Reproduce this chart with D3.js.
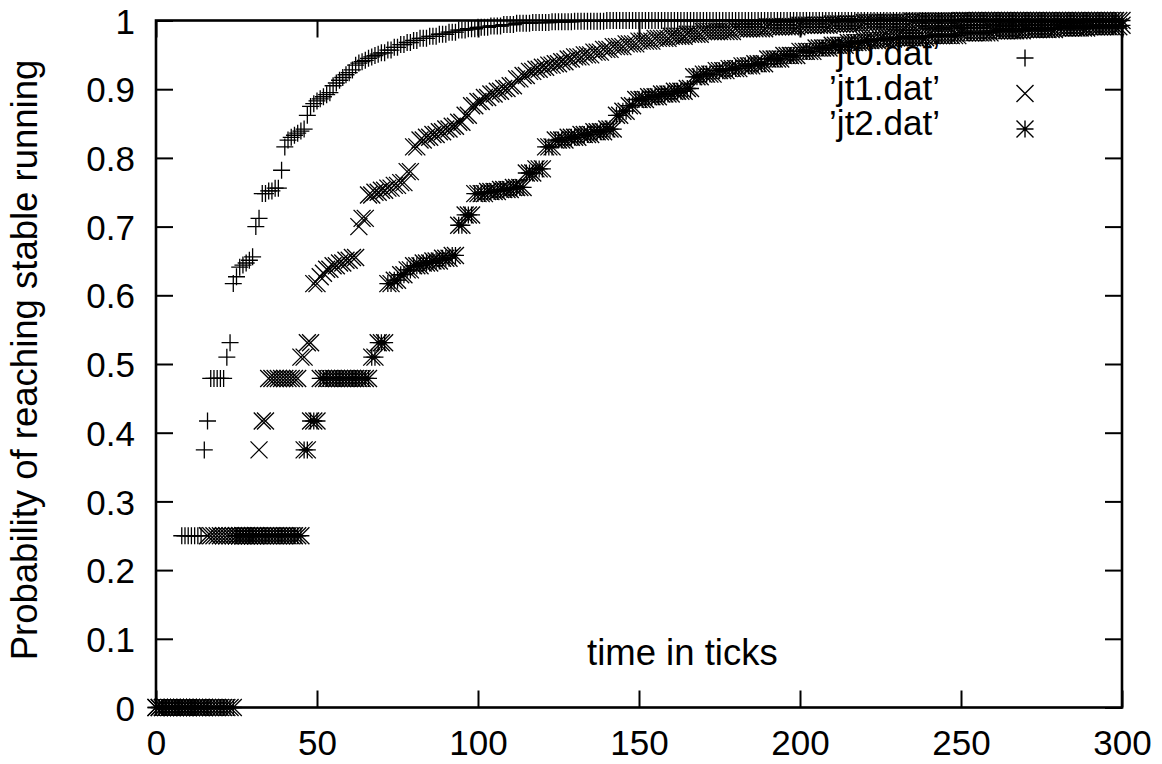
<!DOCTYPE html>
<html>
<head>
<meta charset="utf-8">
<script src="https://cdn.jsdelivr.net/npm/d3@7"></script>
<style>
  body { margin: 0; background: #fff; }
  text { font-family: "Liberation Sans", Arial, Helvetica, sans-serif; fill: #000; }
</style>
</head>
<body>
<div id="chartContainer"></div>
<script>
// sample times (one record per tick)
const ticks = d3.range(0, 301);

// [tick, probability] : value read at the tick where it changes, held until the next change
const jt0Steps = [
  [0, 0], [8, 0.25], [15, 0.375], [16, 0.417], [17, 0.479], [22, 0.51], [23, 0.531], [24, 0.617],
  [25, 0.627], [26, 0.641], [27, 0.644], [28, 0.647], [29, 0.651], [30, 0.656], [31, 0.7], [32, 0.712],
  [33, 0.748], [35, 0.752], [37, 0.756], [39, 0.782], [40, 0.816], [41, 0.826], [42, 0.83], [43, 0.833],
  [44, 0.836], [45, 0.839], [46, 0.842], [47, 0.862], [48, 0.875], [49, 0.879], [50, 0.883], [51, 0.886],
  [52, 0.889], [53, 0.892], [54, 0.895], [55, 0.905], [56, 0.909], [57, 0.913], [58, 0.917], [59, 0.921],
  [60, 0.924], [61, 0.928], [62, 0.935], [63, 0.938], [64, 0.94], [65, 0.942], [66, 0.945], [67, 0.947],
  [68, 0.949], [69, 0.951], [70, 0.953], [72, 0.957], [74, 0.961], [76, 0.965], [78, 0.968], [80, 0.971],
  [82, 0.974], [85, 0.977], [88, 0.98], [91, 0.983], [94, 0.986], [97, 0.988], [100, 0.99], [104, 0.992],
  [108, 0.994], [112, 0.996], [117, 0.997], [123, 0.998], [130, 0.999], [140, 1]
];
const jt1Steps = [
  [0, 0], [16, 0.25], [32, 0.375], [33, 0.417], [35, 0.479], [45, 0.51], [47, 0.531], [49, 0.617],
  [51, 0.627], [52, 0.632], [53, 0.638], [55, 0.643], [57, 0.647], [59, 0.651], [61, 0.655], [63, 0.7],
  [64, 0.712], [66, 0.746], [68, 0.75], [70, 0.753], [72, 0.756], [74, 0.76], [76, 0.764], [78, 0.78],
  [80, 0.816], [82, 0.826], [84, 0.83], [86, 0.834], [88, 0.838], [90, 0.842], [92, 0.846], [94, 0.852],
  [96, 0.862], [98, 0.876], [100, 0.882], [102, 0.888], [104, 0.893], [106, 0.897], [108, 0.901], [110, 0.905],
  [112, 0.915], [114, 0.92], [116, 0.926], [118, 0.929], [120, 0.932], [122, 0.935], [124, 0.937], [126, 0.94],
  [128, 0.944], [130, 0.947], [133, 0.95], [136, 0.954], [139, 0.958], [142, 0.962], [146, 0.966], [150, 0.97],
  [155, 0.974], [160, 0.977], [165, 0.98], [170, 0.984], [180, 0.988], [190, 0.991], [200, 0.993], [210, 0.995],
  [220, 0.997], [235, 0.999], [250, 1]
];
const jt2Steps = [
  [0, 0], [25, 0.25], [46, 0.375], [48, 0.417], [51, 0.479], [67, 0.51], [69, 0.531], [72, 0.617],
  [74, 0.622], [76, 0.63], [78, 0.637], [80, 0.643], [83, 0.647], [86, 0.65], [89, 0.654], [92, 0.658],
  [94, 0.702], [96, 0.717], [99, 0.748], [103, 0.751], [107, 0.754], [111, 0.757], [115, 0.778], [118, 0.784],
  [121, 0.816], [124, 0.826], [128, 0.83], [132, 0.834], [136, 0.838], [140, 0.842], [143, 0.862], [145, 0.868],
  [147, 0.876], [149, 0.885], [153, 0.889], [157, 0.893], [161, 0.897], [165, 0.901], [167, 0.918], [170, 0.922],
  [174, 0.927], [178, 0.93], [182, 0.934], [186, 0.937], [190, 0.944], [195, 0.949], [200, 0.955], [205, 0.96],
  [210, 0.964], [215, 0.968], [220, 0.971], [225, 0.973], [230, 0.975], [240, 0.978], [250, 0.982], [260, 0.985],
  [270, 0.987], [280, 0.989], [290, 0.991], [300, 0.993]
];

const seriesNames = ["\u2019jt0.dat\u2019", "\u2019jt1.dat\u2019", "\u2019jt2.dat\u2019"];
const xTicks = [0, 50, 100, 150, 200, 250, 300];
const yTicks = [0, 0.1, 0.2, 0.3, 0.4, 0.5, 0.6, 0.7, 0.8, 0.9, 1];
const yTickLabels = ["0", "0.1", "0.2", "0.3", "0.4", "0.5", "0.6", "0.7", "0.8", "0.9", "1"];

// gnuplot style point types
const plus = { draw(c, r) { c.moveTo(-r, 0); c.lineTo(r, 0); c.moveTo(0, -r); c.lineTo(0, r); } };
const cross = { draw(c, r) { c.moveTo(-r, -r); c.lineTo(r, r); c.moveTo(-r, r); c.lineTo(r, -r); } };
const star = { draw(c, r) { plus.draw(c, r); cross.draw(c, r); } };
const symbolTypes = [plus, cross, star];

function createChart() {
  const svg = d3.select("#chartContainer").append("svg").attr("width", 1162).attr("height", 764);

  const margin = { top: 20.5, right: 40, bottom: 56.5, left: 156 };
  const width = +svg.attr("width") - margin.left - margin.right;
  const height = +svg.attr("height") - margin.top - margin.bottom;

  const x = d3.scaleLinear().domain([0, 300]).range([0, width]);
  const y = d3.scaleLinear().domain([0, 1]).range([height, 0]);

  const g = svg.append("g").attr("transform", `translate(${margin.left},${margin.top})`);

  const font = '"Liberation Sans", Arial, Helvetica, sans-serif';
  const styleAxis = (sel) => {
    sel.attr("font-size", 35).attr("font-family", font);
    sel.select(".domain").remove();
    sel.selectAll(".tick line").attr("stroke", "#000").attr("stroke-width", 2);
    sel.selectAll(".tick text").attr("fill", "#000");
  };

  // ticks point inward on all four sides
  g.append("g")
    .attr("transform", `translate(0,${height})`)
    .call(d3.axisBottom(x).tickValues(xTicks).tickSize(-17).tickSizeOuter(0).tickPadding(23))
    .call(styleAxis);

  g.append("g")
    .call(d3.axisTop(x).tickValues(xTicks).tickSize(-17).tickSizeOuter(0).tickFormat(""))
    .call(styleAxis);

  g.append("g")
    .call(d3.axisLeft(y).tickValues(yTicks).tickSize(-17).tickSizeOuter(0).tickPadding(21)
      .tickFormat((d, i) => yTickLabels[i]))
    .call(styleAxis)
    .selectAll(".tick text").attr("dy", "0.36em");

  g.append("g")
    .attr("transform", `translate(${width},0)`)
    .call(d3.axisRight(y).tickValues(yTicks).tickSize(-17).tickSizeOuter(0).tickFormat(""))
    .call(styleAxis);

  g.append("rect")
    .attr("width", width)
    .attr("height", height)
    .attr("fill", "none")
    .attr("stroke", "#000")
    .attr("stroke-width", 2.6);

  // axis titles
  svg.append("text")
    .attr("transform", "translate(37,360) rotate(-90)")
    .attr("text-anchor", "middle")
    .attr("font-size", 36.5)
    .text("Probability of reaching stable running");

  svg.append("text")
    .attr("x", 587)
    .attr("y", 665)
    .attr("font-size", 36.5)
    .text("time in ticks");

  // key
  const key = svg.append("g");
  seriesNames.forEach((name, i) => {
    key.append("text")
      .attr("x", 940)
      .attr("y", 65 + i * 35)
      .attr("text-anchor", "end")
      .attr("font-size", 35)
      .text(name);
    key.append("path")
      .attr("transform", `translate(1025,${58 + i * 35.5})`)
      .attr("d", d3.symbol().type(symbolTypes[i]).size(8.5)())
      .attr("fill", "none")
      .attr("stroke", "#000")
      .attr("stroke-width", 1.4);
  });

  // expand each step list to one record per tick
  const bisect = d3.bisector((s) => s[0]).right;
  const valueAt = (steps, t) => steps[bisect(steps, t) - 1][1];
  const allSeries = [jt0Steps, jt1Steps, jt2Steps].map((steps) => ticks.map((t) => ({ t, p: valueAt(steps, t) })));

  allSeries.forEach((data, i) => {
    const sym = d3.symbol().type(symbolTypes[i]).size(8.5)();
    g.append("g")
      .attr("class", `series-${i}`)
      .selectAll("path")
      .data(data)
      .enter()
      .append("path")
      .attr("transform", (d) => `translate(${x(d.t)},${y(d.p)})`)
      .attr("d", sym)
      .attr("fill", "none")
      .attr("stroke", "#000")
      .attr("stroke-width", 1.3);
  });
}

createChart();
</script>
</body>
</html>
